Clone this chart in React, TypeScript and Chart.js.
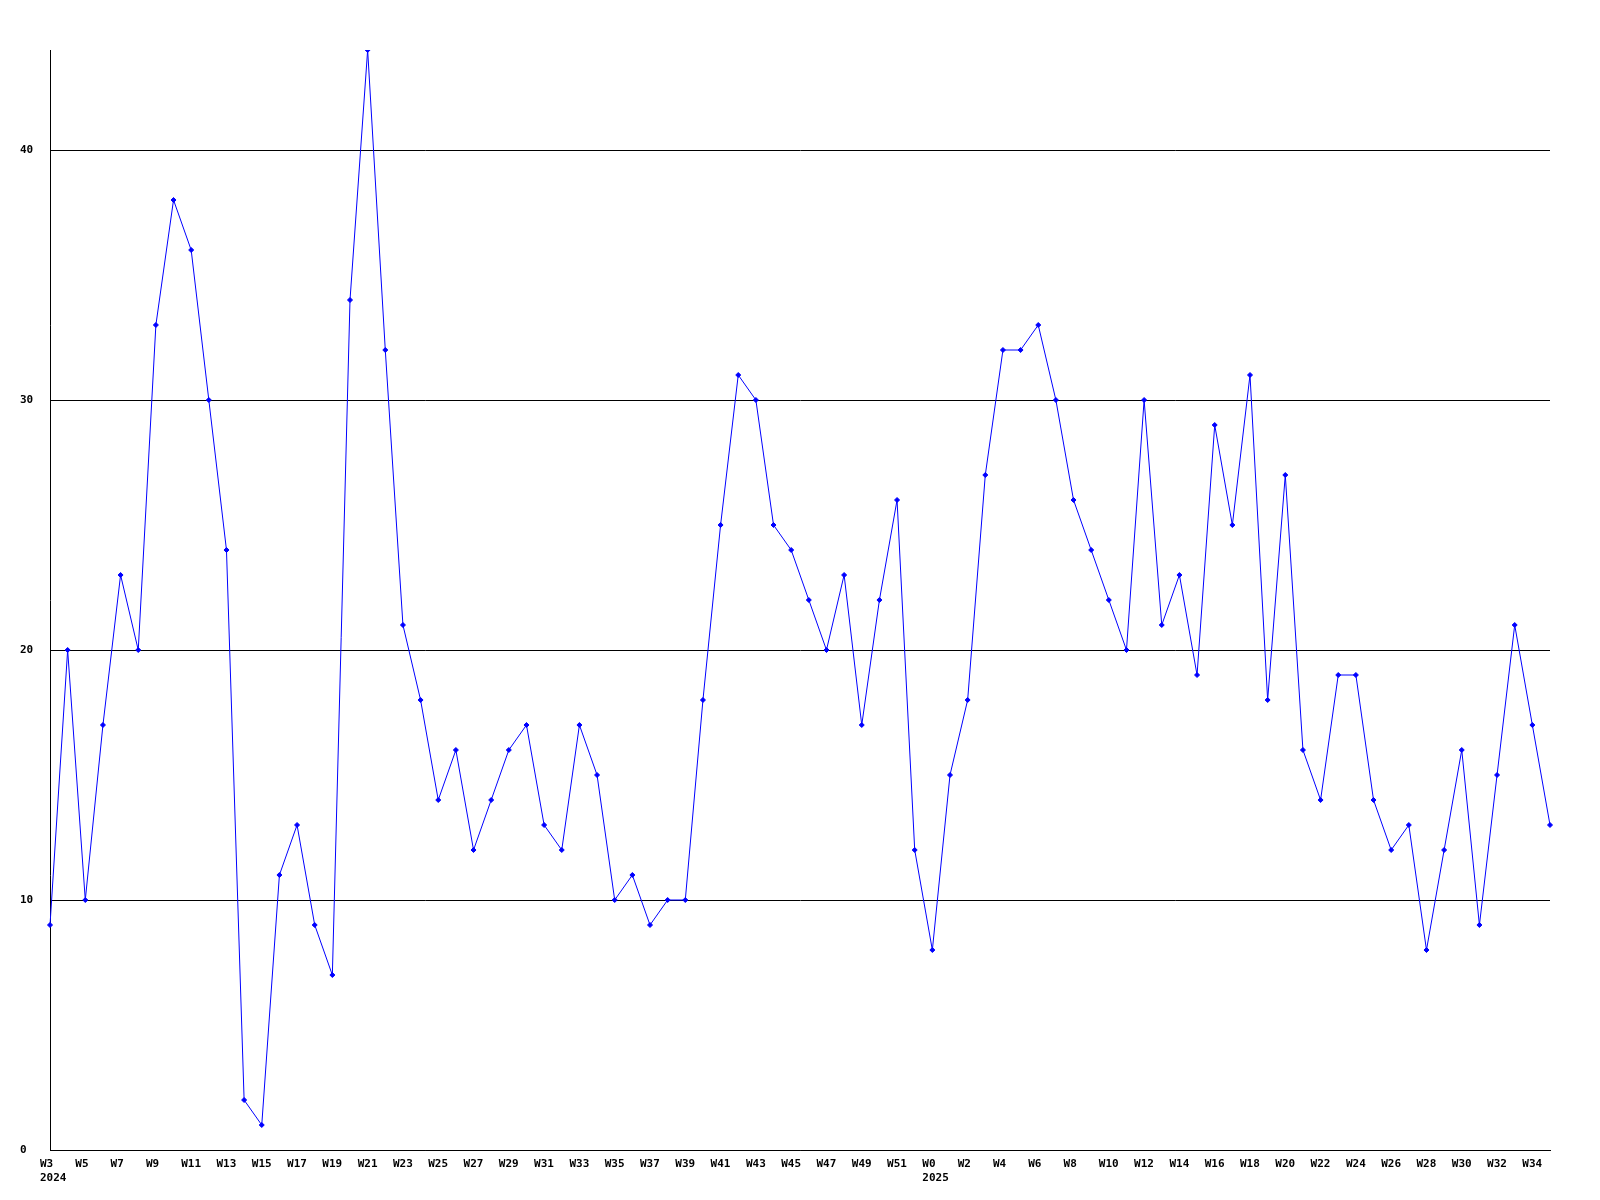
import React, { useEffect, useRef } from "react";
import { Chart, registerables } from "chart.js";

Chart.register(...registerables);

const weeks2024: string[] = [];
for (let w = 3; w <= 52; w++) weeks2024.push("W" + w);
const weeks2025: string[] = [];
for (let w = 0; w <= 35; w++) weeks2025.push("W" + w);
const categories: string[] = [...weeks2024, ...weeks2025];

const yearLabels: { [index: number]: string } = { 0: "2024", 50: "2025" };

const values2024: number[] = [
  9, 20, 10, 17, 23, 20, 33, 38, 36, 30,
  24, 2, 1, 11, 13, 9, 7, 34, 44, 32,
  21, 18, 14, 16, 12, 14, 16, 17, 13, 12,
  17, 15, 10, 11, 9, 10, 10, 18, 25, 31,
  30, 25, 24, 22, 20, 23, 17, 22, 26, 12,
];
const values2025: number[] = [
  8, 15, 18, 27, 32, 32, 33, 30, 26, 24,
  22, 20, 30, 21, 23, 19, 29, 25, 31, 18,
  27, 16, 14, 19, 19, 14, 12, 13, 8, 12,
  16, 9, 15, 21, 17, 13,
];
const seriesValues: number[] = [...values2024, ...values2025];

const yTickValues: number[] = [0, 10, 20, 30, 40];

const FONT = { family: "'DejaVu Sans Mono', monospace", size: 11, weight: "bold" as const, lineHeight: 1.2 };

export default function App() {
  const ref = useRef<HTMLCanvasElement | null>(null);
  useEffect(() => {
    if (!ref.current) return;
    const chart = new Chart(ref.current, {
      type: "line",
      data: {
        labels: categories,
        datasets: [
          {
            data: seriesValues,
            borderColor: "#0000ff",
            backgroundColor: "#0000ff",
            borderWidth: 1,
            pointStyle: "rectRot",
            pointRadius: 2.5,
            pointBorderWidth: 1,
            tension: 0,
            fill: false,
          },
        ],
      },
      options: {
        animation: false,
        responsive: false,
        devicePixelRatio: 1,
        layout: { padding: { left: 20, top: 50, right: 50, bottom: 0 } },
        plugins: { legend: { display: false }, tooltip: { enabled: false } },
        scales: {
          x: {
            type: "category",
            offset: false,
            grid: { display: false },
            border: { display: true, color: "#000000", width: 1 },
            ticks: {
              autoSkip: false,
              maxRotation: 0,
              minRotation: 0,
              align: "start",
              labelOffset: -10,
              padding: 0,
              color: "#000000",
              font: FONT,
              callback: (_v: any, index: number) => {
                if (index % 2 !== 0) return "";
                const lab = categories[index];
                if (yearLabels[index]) return [lab, yearLabels[index]];
                return lab;
              },
            },
            afterFit: (scale: any) => {
              scale.height = 50;
            },
          },
          y: {
            min: 0,
            max: 44,
            grid: { color: "#000000", lineWidth: 1, drawTicks: false },
            border: { display: true, color: "#000000", width: 1 },
            ticks: {
              stepSize: 10,
              crossAlign: "far",
              padding: 0,
              color: "#000000",
              font: FONT,
            },
            afterBuildTicks: (scale: any) => {
              scale.ticks = yTickValues.map((v) => ({ value: v }));
            },
            afterFit: (scale: any) => {
              scale.width = 30;
            },
          },
        },
      },
    });
    return () => chart.destroy();
  }, []);
  return (
    <div style={{ position: "absolute", left: 0, top: 0, width: 1600, height: 1200, background: "#ffffff" }}>
      <canvas ref={ref} width={1600} height={1200} style={{ width: 1600, height: 1200, display: "block" }} />
    </div>
  );
}
